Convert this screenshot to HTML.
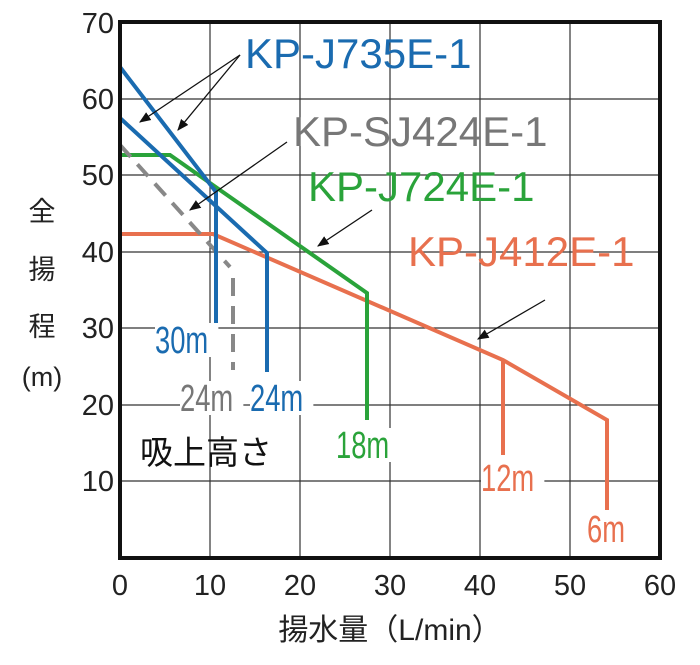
<!DOCTYPE html>
<html><head><meta charset="utf-8"><style>
body{margin:0;background:#fff}
text{font-family:"Liberation Sans","Noto Sans CJK JP",sans-serif}
</style></head><body>
<svg width="700" height="660" viewBox="0 0 700 660" xmlns="http://www.w3.org/2000/svg">
<defs><marker id="ah" viewBox="0 0 10 10" refX="9" refY="5" markerWidth="9" markerHeight="9" orient="auto"><path d="M0,1 L10,5 L0,9 z" fill="#111"/></marker></defs>
<g stroke="#333" stroke-width="1.2">
<line x1="210" y1="22" x2="210" y2="558"/><line x1="300" y1="22" x2="300" y2="558"/><line x1="390" y1="22" x2="390" y2="558"/><line x1="480" y1="22" x2="480" y2="558"/><line x1="570" y1="22" x2="570" y2="558"/>
<line x1="120" y1="99" x2="660" y2="99"/><line x1="120" y1="175" x2="660" y2="175"/><line x1="120" y1="252" x2="660" y2="252"/><line x1="120" y1="328" x2="660" y2="328"/><line x1="120" y1="405" x2="660" y2="405"/><line x1="120" y1="481" x2="660" y2="481"/>
</g>
<g font-size="29" fill="#222">
<g text-anchor="end"><text x="114" y="33">70</text><text x="114" y="109">60</text><text x="114" y="185">50</text><text x="114" y="262">40</text><text x="114" y="338">30</text><text x="114" y="415">20</text><text x="114" y="491">10</text></g>
<g text-anchor="middle"><text x="120" y="595">0</text><text x="210" y="595">10</text><text x="300" y="595">20</text><text x="390" y="595">30</text><text x="480" y="595">40</text><text x="570" y="595">50</text><text x="660" y="595">60</text></g>
</g>
<g font-size="27" fill="#222" text-anchor="middle">
<text x="42" y="221">全</text><text x="42" y="279">揚</text><text x="42" y="336">程</text><text x="42" y="386">(m)</text>
<text x="390" y="640" font-size="30">揚水量（L/min）</text>
</g>
<g fill="none" stroke-width="4" stroke-linejoin="miter">
<polyline points="120,234 213,234 503,360 607,420 607,510" stroke="#e8704e"/>
<line x1="503" y1="360" x2="503" y2="455" stroke="#e8704e"/>
<polyline points="120,155 170,155 367,293 367,420" stroke="#2aa33a"/>
<polyline points="120,145 230,267" stroke="#888" stroke-dasharray="16,10"/>
<line x1="233" y1="278" x2="233" y2="370" stroke="#888" stroke-dasharray="18,10"/>
<polyline points="120,67 216,192 216,325" stroke="#1a6bb0"/>
<polyline points="120,118 267,253 267,372" stroke="#1a6bb0"/>
</g>
<rect x="120" y="22" width="540" height="536" fill="none" stroke="#111" stroke-width="4"/>
<g stroke="#111" stroke-width="1.3" marker-end="url(#ah)">
<line x1="240" y1="55" x2="140" y2="122"/><line x1="240" y1="55" x2="178" y2="130"/>
<line x1="287" y1="142" x2="190" y2="210"/>
<line x1="372" y1="210" x2="318" y2="246"/>
<line x1="545" y1="300" x2="478" y2="339"/>
</g>
<g font-size="42">
<text x="245" y="68" fill="#1a6bb0">KP-J735E-1</text>
<text x="293" y="146" fill="#777">KP-SJ424E-1</text>
<text x="308" y="201" fill="#2aa33a">KP-J724E-1</text>
<text x="408" y="266" fill="#e8704e">KP-J412E-1</text>
</g>
<g font-size="38">
<g transform="translate(155,353) scale(0.72,1)"><rect x="0" y="-30" width="88" height="34" fill="#fff"/><text fill="#1a6bb0">30m</text></g>
<g transform="translate(180,411) scale(0.72,1)"><rect x="0" y="-30" width="88" height="34" fill="#fff"/><text fill="#777">24m</text></g>
<g transform="translate(250,411) scale(0.72,1)"><rect x="0" y="-30" width="88" height="34" fill="#fff"/><text fill="#1a6bb0">24m</text></g>
<g transform="translate(336,458) scale(0.72,1)"><rect x="0" y="-30" width="88" height="34" fill="#fff"/><text fill="#2aa33a">18m</text></g>
<g transform="translate(481,491) scale(0.72,1)"><rect x="0" y="-30" width="88" height="34" fill="#fff"/><text fill="#e8704e">12m</text></g>
<g transform="translate(587,542) scale(0.72,1)"><rect x="0" y="-30" width="66" height="34" fill="#fff"/><text fill="#e8704e">6m</text></g>
</g>
<text x="140" y="464" font-size="33" fill="#111">吸上高さ</text>
</svg>
</body></html>
